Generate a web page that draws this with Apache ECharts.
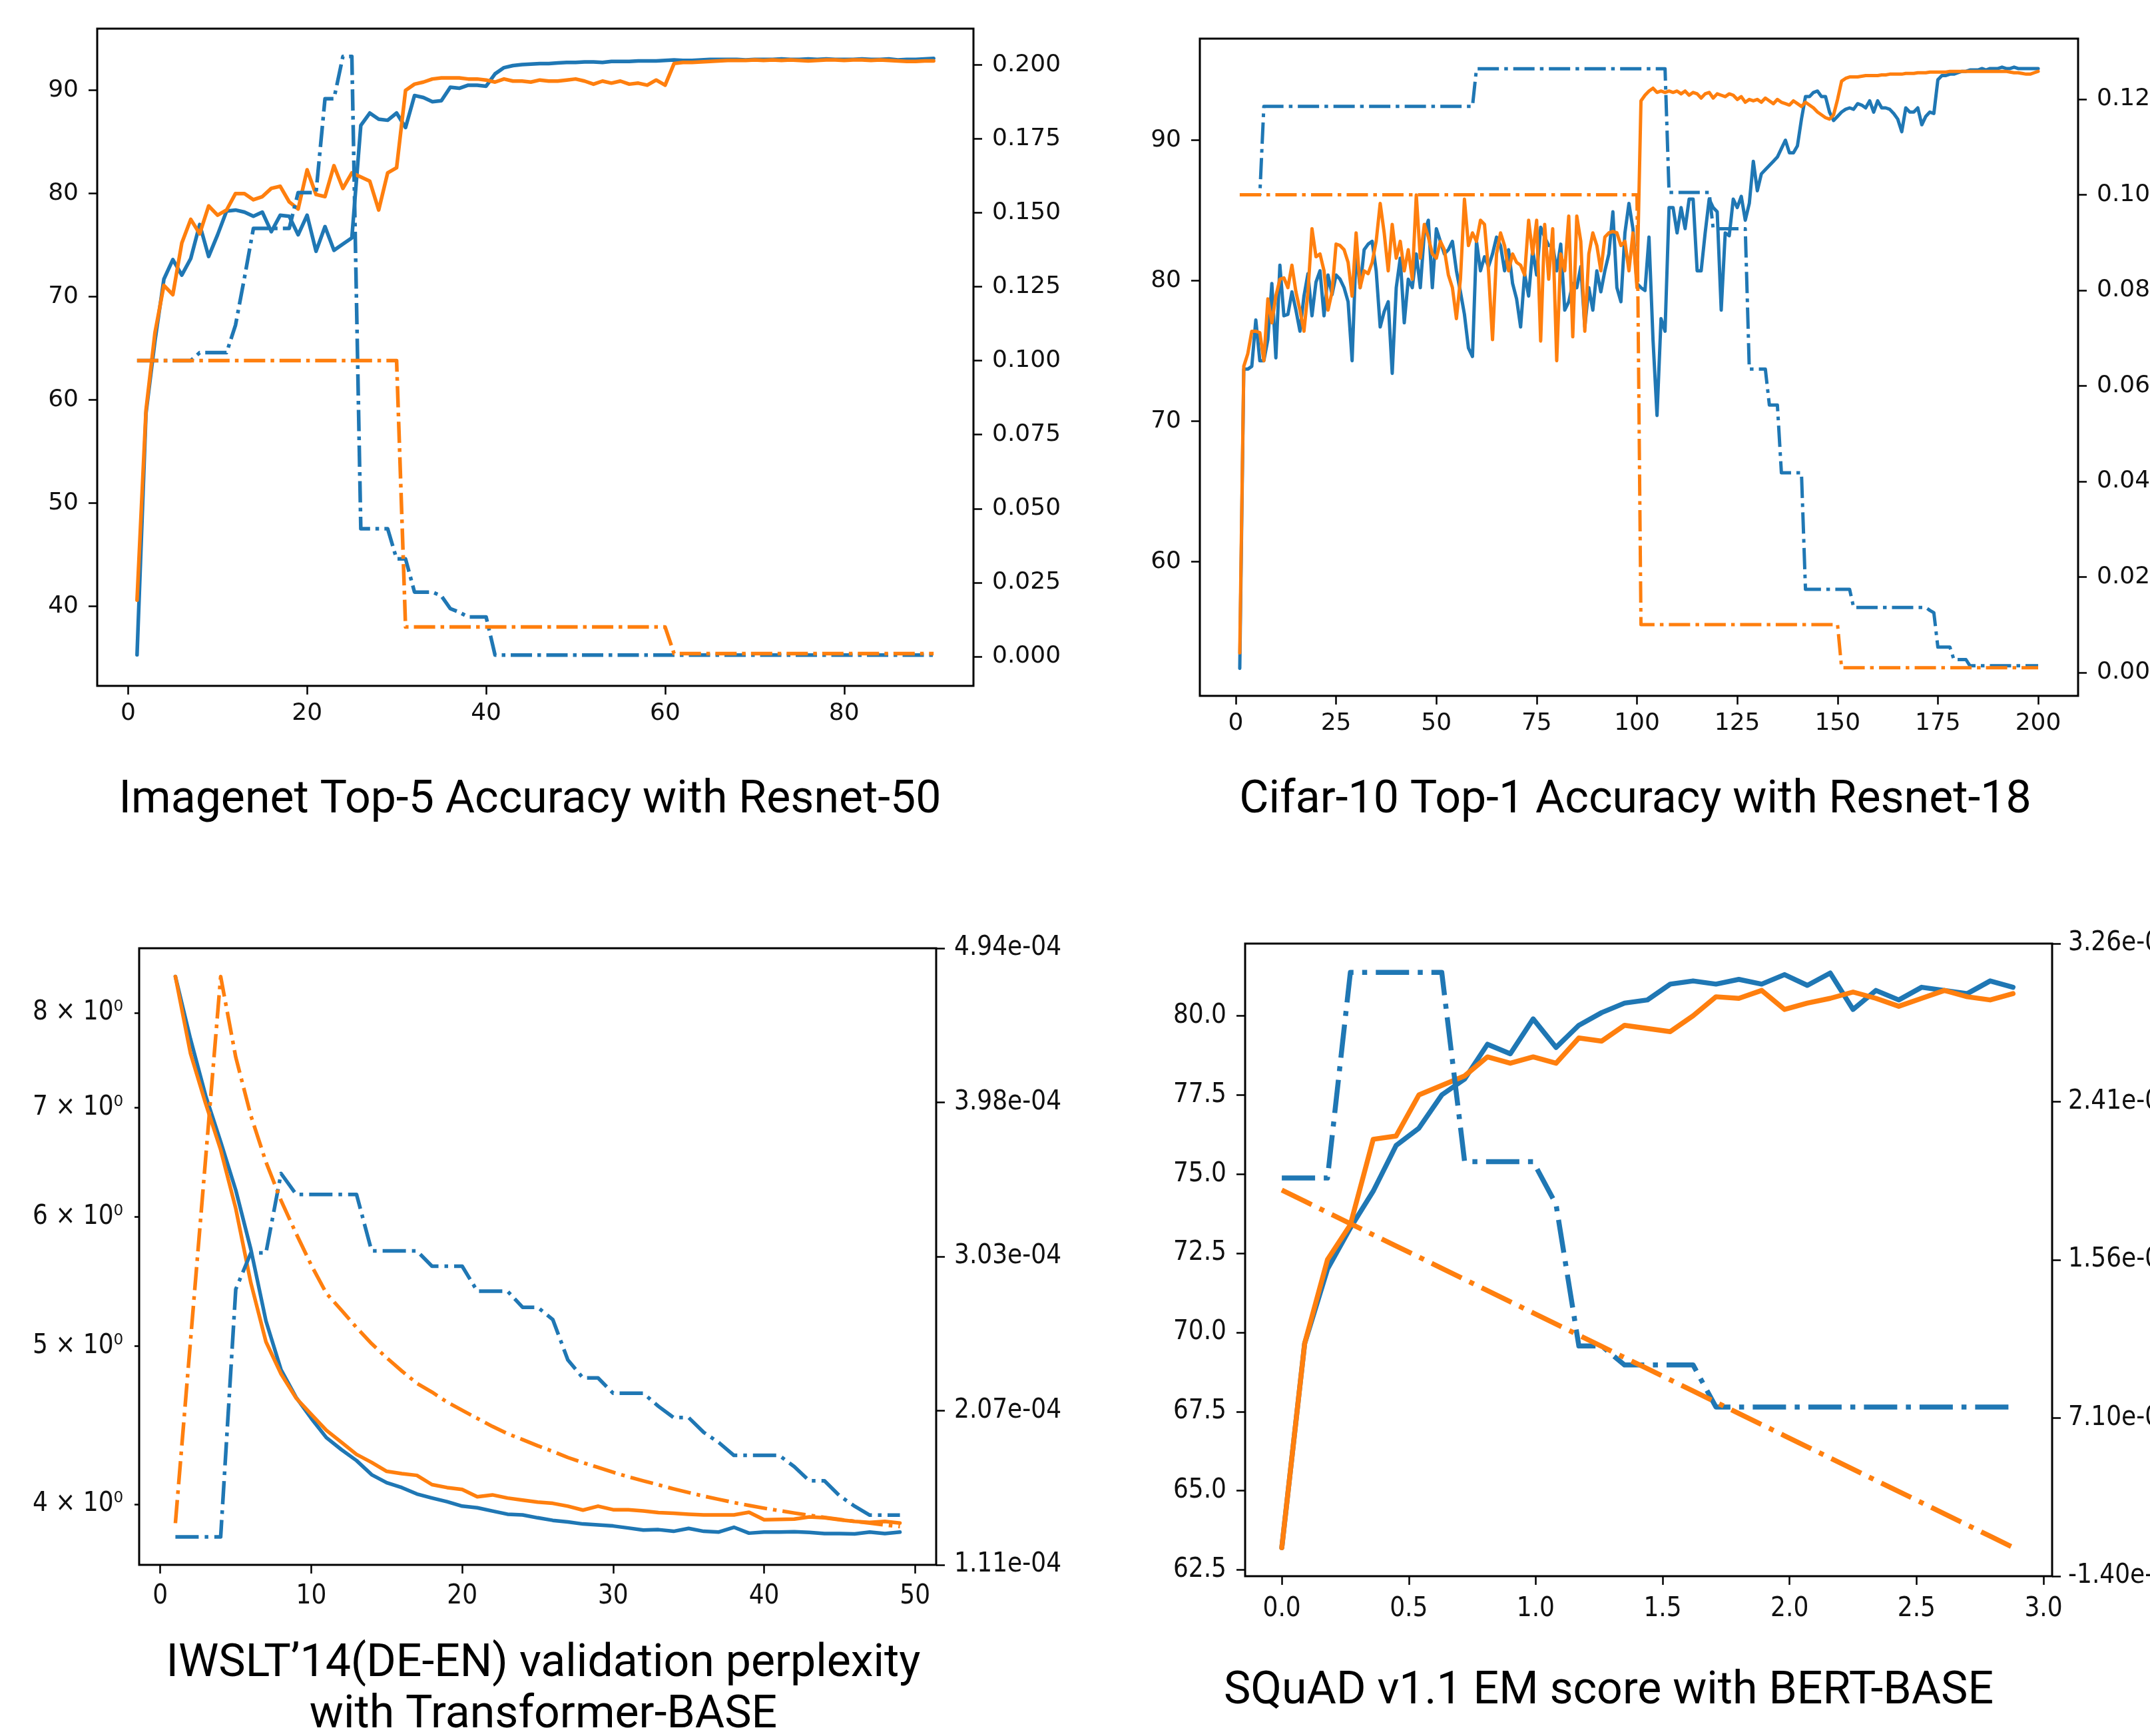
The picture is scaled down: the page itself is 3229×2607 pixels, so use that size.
<!DOCTYPE html>
<html><head><meta charset="utf-8">
<script src="https://cdn.jsdelivr.net/npm/echarts@6/dist/echarts.min.js"></script>
<style>html,body{margin:0;padding:0;background:#fff}#c{width:3229px;height:2607px}</style>
</head><body><div id="c"></div>
<script>
// ---------- Panel 1: Imagenet Top-5 (epochs 1..90) ----------
const p1Blue = [35.3,58.7,65.7,71.7,73.6,72.1,73.7,77.0,73.9,76.0,
78.3,78.4,78.2,77.8,78.2,76.3,77.9,77.8,76.0,77.9,
74.4,76.8,74.5,75.1,75.7,86.6,87.8,87.2,87.1,87.8,
86.4,89.5,89.3,88.9,89.0,90.3,90.2,90.5,90.5,90.4,
91.6,92.2,92.4,92.5,92.55,92.6,92.6,92.65,92.7,92.7,
92.75,92.75,92.7,92.8,92.8,92.8,92.85,92.85,92.85,92.9,
92.95,92.9,92.9,92.95,93.0,93.0,93.0,93.0,92.95,93.0,
93.0,93.0,93.05,93.0,93.0,93.05,93.0,93.05,93.0,93.0,
93.0,93.05,93.0,93.0,93.05,92.95,93.0,93.0,93.05,93.1];
const p1Orange = [40.6,59.0,66.5,71.1,70.2,75.2,77.5,76.1,78.8,77.9,
78.4,80.0,80.0,79.4,79.7,80.5,80.7,79.2,78.5,82.3,
79.9,79.7,82.7,80.5,82.0,81.6,81.2,78.4,82.0,82.5,
90.0,90.6,90.8,91.1,91.2,91.2,91.2,91.1,91.1,91.0,
90.8,91.1,90.9,90.9,90.8,91.0,90.9,90.9,91.0,91.1,
90.9,90.6,90.9,90.7,90.9,90.6,90.7,90.5,91.0,90.5,
92.6,92.7,92.7,92.75,92.8,92.85,92.9,92.9,92.9,92.95,
92.9,92.95,92.9,92.95,92.9,92.85,92.9,92.95,92.95,92.9,
92.95,92.95,92.9,92.95,92.9,92.85,92.8,92.8,92.85,92.85];
const p1BlueLr = [0.1,0.1,0.1,0.1,0.1,0.1,0.1,0.1027,0.1027,0.1027,
0.1027,0.112,0.128,0.1447,0.1447,0.1447,0.1447,0.1447,0.1568,0.1568,
0.1568,0.1885,0.1885,0.2028,0.2028,0.0432,0.0432,0.0432,0.0432,0.033,
0.033,0.0218,0.0218,0.0218,0.0205,0.0162,0.015,0.0134,0.0134,0.0134,
0.0005,0.0005,0.0005,0.0005,0.0005,0.0005,0.0005,0.0005,0.0005,0.0005,
0.0005,0.0005,0.0005,0.0005,0.0005,0.0005,0.0005,0.0005,0.0005,0.0005,
0.0005,0.0005,0.0005,0.0005,0.0005,0.0005,0.0005,0.0005,0.0005,0.0005,
0.0005,0.0005,0.0005,0.0005,0.0005,0.0005,0.0005,0.0005,0.0005,0.0005,
0.0005,0.0005,0.0005,0.0005,0.0005,0.0005,0.0005,0.0005,0.0005,0.0005];
const p1OrangeLr = [0.1,0.1,0.1,0.1,0.1,0.1,0.1,0.1,0.1,0.1,
0.1,0.1,0.1,0.1,0.1,0.1,0.1,0.1,0.1,0.1,
0.1,0.1,0.1,0.1,0.1,0.1,0.1,0.1,0.1,0.1,
0.01,0.01,0.01,0.01,0.01,0.01,0.01,0.01,0.01,0.01,
0.01,0.01,0.01,0.01,0.01,0.01,0.01,0.01,0.01,0.01,
0.01,0.01,0.01,0.01,0.01,0.01,0.01,0.01,0.01,0.01,
0.001,0.001,0.001,0.001,0.001,0.001,0.001,0.001,0.001,0.001,
0.001,0.001,0.001,0.001,0.001,0.001,0.001,0.001,0.001,0.001,
0.001,0.001,0.001,0.001,0.001,0.001,0.001,0.001,0.001,0.001];
const p1XTicks = [0,20,40,60,80];
const p1LeftTicks = [40,50,60,70,80,90];
const p1RightTicks = [0,0.025,0.05,0.075,0.1,0.125,0.15,0.175,0.2];

// ---------- Panel 2: Cifar-10 Top-1 (epochs 1..200) ----------
const p2Blue = [52.4,73.7,73.7,73.9,77.2,74.3,74.3,75.8,79.8,74.5,
81.1,77.5,77.6,79.2,77.9,76.4,78.9,80.5,77.5,79.9,
80.7,77.5,80.4,79.0,80.4,80.1,79.5,78.5,74.3,82.2,
79.5,82.2,82.6,82.8,80.7,76.7,77.8,78.5,73.4,79.5,
81.6,77.0,80.1,79.5,81.9,79.5,83.4,84.3,79.5,83.7,
82.8,81.9,82.2,82.8,80.7,79.2,77.6,75.2,74.6,82.8,
80.7,81.7,81.0,81.9,83.1,82.5,80.7,82.2,79.8,78.7,
76.7,80.5,78.9,82.2,80.4,83.8,83.1,82.5,82.5,80.7,
82.6,77.9,78.5,79.8,79.5,81.0,76.7,79.5,77.9,80.7,
79.2,80.7,81.9,84.9,79.5,78.5,83.4,85.5,83.7,79.8,
79.5,79.3,83.1,75.8,70.4,77.3,76.4,85.2,85.2,83.4,
85.2,83.7,85.8,85.8,80.7,80.7,83.4,85.8,85.2,84.9,
77.9,83.4,83.2,85.8,85.2,86.0,84.3,85.5,88.5,86.4,
87.6,87.9,88.2,88.5,88.8,89.4,90.0,89.1,89.1,89.6,
91.5,93.1,93.1,93.4,93.5,93.1,93.1,92.0,91.4,91.7,
92.0,92.2,92.3,92.2,92.6,92.5,92.3,92.8,92.0,92.8,
92.3,92.3,92.2,91.9,91.5,90.6,92.3,92.0,92.0,92.3,
91.1,91.7,92.0,91.9,94.3,94.6,94.6,94.7,94.7,94.8,
94.9,94.9,95.0,95.0,95.0,95.1,95.0,95.1,95.1,95.1,
95.2,95.1,95.1,95.2,95.1,95.1,95.1,95.1,95.1,95.1];
const p2Orange = [53.5,73.9,74.8,76.4,76.4,76.3,74.3,78.7,77.0,78.9,
80.1,80.2,79.5,81.1,79.2,77.9,76.4,79.2,83.7,81.7,
81.9,80.7,77.9,79.2,82.6,82.5,82.2,81.3,78.9,83.4,
79.5,80.7,80.5,81.3,82.8,85.5,83.4,80.7,84.0,81.6,
82.8,80.7,82.2,80.1,86.1,81.6,84.0,83.1,81.9,81.6,
82.8,82.2,80.4,79.5,77.3,80.1,85.8,82.5,83.4,82.8,
84.3,84.0,80.7,75.8,81.9,83.4,82.5,80.7,81.9,81.3,
81.1,80.4,84.3,81.9,84.3,75.7,84.0,80.1,83.7,74.3,
81.9,80.7,84.6,76.0,84.6,82.8,76.4,81.9,83.4,82.5,
80.7,83.1,83.4,83.5,83.4,82.5,82.8,80.7,83.4,79.5,
92.8,93.2,93.5,93.7,93.4,93.5,93.4,93.5,93.4,93.5,
93.3,93.5,93.2,93.4,93.3,93.0,93.3,93.4,93.0,93.3,
93.2,93.1,93.3,93.2,92.9,93.1,92.7,92.9,92.8,92.9,
92.7,93.0,92.8,92.6,92.9,92.7,92.6,92.5,92.8,92.6,
92.4,92.7,92.5,92.3,92.0,91.8,91.6,91.5,91.8,92.9,
94.2,94.4,94.5,94.5,94.5,94.55,94.6,94.6,94.6,94.6,
94.65,94.65,94.7,94.7,94.7,94.7,94.75,94.75,94.75,94.8,
94.8,94.8,94.85,94.85,94.85,94.85,94.85,94.9,94.9,94.9,
94.9,94.9,94.9,94.9,94.9,94.9,94.9,94.9,94.9,94.9,
94.9,94.9,94.85,94.8,94.8,94.75,94.7,94.7,94.8,94.9];
const p2BlueLr = [0.1,0.1,0.1,0.1,0.1,0.1,0.1185,0.1185,0.1185,0.1185,
0.1185,0.1185,0.1185,0.1185,0.1185,0.1185,0.1185,0.1185,0.1185,0.1185,
0.1185,0.1185,0.1185,0.1185,0.1185,0.1185,0.1185,0.1185,0.1185,0.1185,
0.1185,0.1185,0.1185,0.1185,0.1185,0.1185,0.1185,0.1185,0.1185,0.1185,
0.1185,0.1185,0.1185,0.1185,0.1185,0.1185,0.1185,0.1185,0.1185,0.1185,
0.1185,0.1185,0.1185,0.1185,0.1185,0.1185,0.1185,0.1185,0.1185,0.1264,
0.1264,0.1264,0.1264,0.1264,0.1264,0.1264,0.1264,0.1264,0.1264,0.1264,
0.1264,0.1264,0.1264,0.1264,0.1264,0.1264,0.1264,0.1264,0.1264,0.1264,
0.1264,0.1264,0.1264,0.1264,0.1264,0.1264,0.1264,0.1264,0.1264,0.1264,
0.1264,0.1264,0.1264,0.1264,0.1264,0.1264,0.1264,0.1264,0.1264,0.1264,
0.1264,0.1264,0.1264,0.1264,0.1264,0.1264,0.1264,0.1005,0.1005,0.1005,
0.1005,0.1005,0.1005,0.1005,0.1005,0.1005,0.1005,0.1005,0.0929,0.0929,
0.0929,0.0929,0.0929,0.0929,0.0929,0.0929,0.0929,0.0635,0.0635,0.0635,
0.0635,0.0635,0.056,0.056,0.056,0.0418,0.0418,0.0418,0.0418,0.0418,
0.0418,0.0174,0.0174,0.0174,0.0174,0.0174,0.0174,0.0174,0.0174,0.0174,
0.0174,0.0174,0.0174,0.0136,0.0136,0.0136,0.0136,0.0136,0.0136,0.0136,
0.0136,0.0136,0.0136,0.0136,0.0136,0.0136,0.0136,0.0136,0.0136,0.0136,
0.0136,0.0136,0.013,0.0125,0.0053,0.0053,0.0053,0.0053,0.0027,0.0027,
0.0027,0.0027,0.0014,0.0014,0.0014,0.0014,0.0014,0.0014,0.0014,0.0014,
0.0014,0.0014,0.0014,0.0014,0.0014,0.0014,0.0014,0.0014,0.0014,0.0014];
const p2OrangeLr = [0.1,0.1,0.1,0.1,0.1,0.1,0.1,0.1,0.1,0.1,
0.1,0.1,0.1,0.1,0.1,0.1,0.1,0.1,0.1,0.1,
0.1,0.1,0.1,0.1,0.1,0.1,0.1,0.1,0.1,0.1,
0.1,0.1,0.1,0.1,0.1,0.1,0.1,0.1,0.1,0.1,
0.1,0.1,0.1,0.1,0.1,0.1,0.1,0.1,0.1,0.1,
0.1,0.1,0.1,0.1,0.1,0.1,0.1,0.1,0.1,0.1,
0.1,0.1,0.1,0.1,0.1,0.1,0.1,0.1,0.1,0.1,
0.1,0.1,0.1,0.1,0.1,0.1,0.1,0.1,0.1,0.1,
0.1,0.1,0.1,0.1,0.1,0.1,0.1,0.1,0.1,0.1,
0.1,0.1,0.1,0.1,0.1,0.1,0.1,0.1,0.1,0.1,
0.01,0.01,0.01,0.01,0.01,0.01,0.01,0.01,0.01,0.01,
0.01,0.01,0.01,0.01,0.01,0.01,0.01,0.01,0.01,0.01,
0.01,0.01,0.01,0.01,0.01,0.01,0.01,0.01,0.01,0.01,
0.01,0.01,0.01,0.01,0.01,0.01,0.01,0.01,0.01,0.01,
0.01,0.01,0.01,0.01,0.01,0.01,0.01,0.01,0.01,0.01,
0.001,0.001,0.001,0.001,0.001,0.001,0.001,0.001,0.001,0.001,
0.001,0.001,0.001,0.001,0.001,0.001,0.001,0.001,0.001,0.001,
0.001,0.001,0.001,0.001,0.001,0.001,0.001,0.001,0.001,0.001,
0.001,0.001,0.001,0.001,0.001,0.001,0.001,0.001,0.001,0.001,
0.001,0.001,0.001,0.001,0.001,0.001,0.001,0.001,0.001,0.001];
const p2XTicks = [0,25,50,75,100,125,150,175,200];
const p2LeftTicks = [60,70,80,90];
const p2RightTicks = [0,0.02,0.04,0.06,0.08,0.1,0.12];

// ---------- Panel 3: IWSLT'14 perplexity (epochs 1..49) ----------
const p3Blue = [8.42,7.71,7.12,6.67,6.23,5.73,5.18,4.835,4.65,4.515,
4.394,4.32,4.254,4.17,4.123,4.095,4.058,4.035,4.014,3.989,
3.980,3.962,3.944,3.940,3.924,3.910,3.901,3.890,3.885,3.879,
3.868,3.857,3.859,3.850,3.866,3.850,3.846,3.872,3.840,3.846,
3.846,3.848,3.844,3.838,3.838,3.836,3.846,3.838,3.846];
const p3Orange = [8.42,7.555,7.04,6.594,6.07,5.465,5.03,4.807,4.646,4.541,
4.44,4.365,4.291,4.243,4.19,4.176,4.166,4.112,4.095,4.084,
4.042,4.053,4.035,4.023,4.012,4.005,3.989,3.967,3.989,3.969,
3.969,3.962,3.953,3.949,3.944,3.94,3.94,3.94,3.955,3.913,
3.915,3.917,3.929,3.924,3.913,3.904,3.899,3.904,3.895];
const p3BlueLr = [1.284e-4,1.284e-4,1.284e-4,1.284e-4,2.822e-4,3.048e-4,3.048e-4,3.541e-4,3.411e-4,3.411e-4,
3.411e-4,3.411e-4,3.411e-4,3.060e-4,3.060e-4,3.060e-4,3.060e-4,2.965e-4,2.965e-4,2.965e-4,
2.810e-4,2.810e-4,2.810e-4,2.710e-4,2.710e-4,2.634e-4,2.383e-4,2.271e-4,2.271e-4,2.176e-4,
2.176e-4,2.176e-4,2.095e-4,2.025e-4,2.025e-4,1.933e-4,1.870e-4,1.790e-4,1.790e-4,1.790e-4,
1.790e-4,1.720e-4,1.632e-4,1.632e-4,1.539e-4,1.474e-4,1.419e-4,1.419e-4,1.419e-4];
const p3OrangeLr = [1.369e-4,2.50e-4,3.63e-4,4.764e-4,4.263e-4,3.900e-4,3.612e-4,3.373e-4,3.168e-4,2.972e-4,
2.797e-4,2.692e-4,2.584e-4,2.484e-4,2.396e-4,2.314e-4,2.238e-4,2.183e-4,2.121e-4,2.070e-4,
2.020e-4,1.970e-4,1.925e-4,1.888e-4,1.850e-4,1.815e-4,1.777e-4,1.745e-4,1.715e-4,1.685e-4,
1.657e-4,1.632e-4,1.607e-4,1.582e-4,1.559e-4,1.537e-4,1.517e-4,1.497e-4,1.479e-4,1.462e-4,
1.447e-4,1.432e-4,1.418e-4,1.405e-4,1.392e-4,1.380e-4,1.369e-4,1.358e-4,1.348e-4];
const p3XTicks = [0,10,20,30,40,50];
const p3LeftTicks = [4,5,6,7,8];
const p3LeftLabels = ['4 \u00d7 10\u2070','5 \u00d7 10\u2070','6 \u00d7 10\u2070','7 \u00d7 10\u2070','8 \u00d7 10\u2070'];
const p3RightTicks = [1.11e-4,2.0675e-4,3.025e-4,3.9825e-4,4.94e-4];
const p3RightLabels = ['1.11e-04','2.07e-04','3.03e-04','3.98e-04','4.94e-04'];

// ---------- Panel 4: SQuAD v1.1 EM (33 evaluations) ----------
const p4X = [0,0.09,0.18,0.27,0.36,0.45,0.54,0.63,0.72,0.81,
0.90,0.99,1.08,1.17,1.26,1.35,1.44,1.53,1.62,1.71,
1.80,1.89,1.98,2.07,2.16,2.25,2.34,2.43,2.52,2.61,
2.70,2.79,2.88];
const p4Blue = [63.2,69.65,72.0,73.3,74.46,75.9,76.45,77.5,78.0,79.1,
78.8,79.9,79.0,79.7,80.1,80.4,80.5,81.0,81.1,81.0,
81.15,81.0,81.3,80.96,81.35,80.2,80.8,80.5,80.9,80.8,
80.7,81.1,80.9];
const p4Orange = [63.2,69.65,72.3,73.4,76.1,76.2,77.5,77.8,78.1,78.7,
78.5,78.7,78.5,79.3,79.2,79.7,79.6,79.5,80.0,80.6,
80.55,80.8,80.2,80.4,80.55,80.75,80.55,80.3,80.55,80.8,
80.6,80.5,80.7];
const p4BlueLr = [2.0e-5,2.0e-5,2.0e-5,3.105e-5,3.105e-5,3.105e-5,3.105e-5,3.105e-5,2.088e-5,2.088e-5,
2.088e-5,2.088e-5,1.859e-5,1.097e-5,1.097e-5,0.995e-5,0.995e-5,0.995e-5,0.995e-5,0.769e-5,
0.769e-5,0.769e-5,0.769e-5,0.769e-5,0.769e-5,0.769e-5,0.769e-5,0.769e-5,0.769e-5,0.769e-5,
0.769e-5,0.769e-5,0.769e-5];
const p4OrangeLr = [1.935e-5,1.875e-5,1.815e-5,1.755e-5,1.695e-5,1.635e-5,1.575e-5,1.515e-5,1.455e-5,1.395e-5,
1.335e-5,1.275e-5,1.215e-5,1.155e-5,1.095e-5,1.035e-5,0.975e-5,0.915e-5,0.855e-5,0.795e-5,
0.735e-5,0.675e-5,0.615e-5,0.555e-5,0.495e-5,0.435e-5,0.375e-5,0.315e-5,0.255e-5,0.195e-5,
0.135e-5,0.075e-5,0.015e-5];
const p4XTicks = [0,0.5,1.0,1.5,2.0,2.5,3.0];
const p4LeftTicks = [62.5,65,67.5,70,72.5,75,77.5,80];
const p4RightTicks = [-1.4e-6,7.1e-6,1.56e-5,2.41e-5,3.26e-5];
const p4RightLabels = ['-1.40e-06','7.10e-06','1.56e-05','2.41e-05','3.26e-05'];

const titles = [
  'Imagenet Top-5 Accuracy with Resnet-50',
  'Cifar-10 Top-1 Accuracy with Resnet-18',
  'IWSLT\u201914(DE-EN) validation perplexity\nwith Transformer-BASE',
  'SQuAD v1.1 EM score with BERT-BASE'
];

// ---------- styling / layout ----------
const BLUE = '#1f77b4', ORANGE = '#ff7f0e';
const FONT_A = "'DejaVu Sans', sans-serif";
const FONT_B = "'DejaVu Sans Condensed', 'DejaVu Sans', sans-serif";

function byIndex(ys) { return ys.map((v, i) => [i + 1, v]); }
function byX(xs, ys) { return ys.map((v, i) => [xs[i], v]); }
function lookup(ticks, labels) {
  return function (v) {
    let best = 0, bd = Infinity;
    for (let i = 0; i < ticks.length; i++) { const d = Math.abs(ticks[i] - v); if (d < bd) { bd = d; best = i; } }
    return labels[best];
  };
}

function axis(o) {
  return {
    type: o.type || 'value', gridIndex: o.grid, position: o.position,
    min: o.min, max: o.max, logBase: o.logBase,
    axisLine: { show: false, onZero: false },
    splitLine: { show: false },
    splitArea: { show: false },
    minorTick: { show: false },
    axisTick: { show: true, inside: false, length: o.tickLen, lineStyle: { color: '#000', width: 2.5 }, customValues: o.ticks },
    axisLabel: { show: true, customValues: o.ticks, formatter: o.fmt, margin: o.margin,
      fontSize: o.fontSize, fontFamily: o.font, color: '#111', hideOverlap: false }
  };
}

const grids = [
  { left: 146, top: 43, width: 1316, height: 987 },
  { left: 1802, top: 58, width: 1319, height: 987 },
  { left: 209, top: 1424, width: 1197, height: 926 },
  { left: 1870, top: 1417, width: 1212, height: 950 }
].map(g => Object.assign(g, { show: true, borderColor: '#000', borderWidth: 3, backgroundColor: 'transparent', containLabel: false, outerBoundsMode: 'none' }));

const xAxes = [
  axis({ grid: 0, position: 'bottom', min: -3.45, max: 94.45, ticks: p1XTicks, fmt: v => String(v), margin: 24, fontSize: 36, font: FONT_A, tickLen: 13 }),
  axis({ grid: 1, position: 'bottom', min: -8.95, max: 209.95, ticks: p2XTicks, fmt: v => String(v), margin: 24, fontSize: 36, font: FONT_A, tickLen: 13 }),
  axis({ grid: 2, position: 'bottom', min: -1.4, max: 51.4, ticks: p3XTicks, fmt: v => String(v), margin: 28, fontSize: 40, font: FONT_B, tickLen: 13 }),
  axis({ grid: 3, position: 'bottom', min: -0.1445, max: 3.034, ticks: p4XTicks, fmt: v => v.toFixed(1), margin: 30, fontSize: 40, font: FONT_B, tickLen: 13 })
];
const yAxes = [
  axis({ grid: 0, position: 'left', min: 32.29, max: 95.98, ticks: p1LeftTicks, fmt: v => String(v), margin: 28, fontSize: 36, font: FONT_A, tickLen: 13 }),
  axis({ grid: 0, position: 'right', min: -0.0099, max: 0.2122, ticks: p1RightTicks, fmt: v => v.toFixed(3), margin: 28, fontSize: 36, font: FONT_A, tickLen: 13 }),
  axis({ grid: 1, position: 'left', min: 50.44, max: 97.23, ticks: p2LeftTicks, fmt: v => String(v), margin: 28, fontSize: 36, font: FONT_A, tickLen: 13 }),
  axis({ grid: 1, position: 'right', min: -0.0049, max: 0.1327, ticks: p2RightTicks, fmt: v => v.toFixed(2), margin: 28, fontSize: 36, font: FONT_A, tickLen: 13 }),
  axis({ grid: 2, type: 'log', logBase: 10, position: 'left', min: 3.672, max: 8.763, ticks: p3LeftTicks, fmt: lookup(p3LeftTicks, p3LeftLabels), margin: 24, fontSize: 40, font: FONT_B, tickLen: 7 }),
  axis({ grid: 2, position: 'right', min: 1.11e-4, max: 4.94e-4, ticks: p3RightTicks, fmt: lookup(p3RightTicks, p3RightLabels), margin: 27, fontSize: 40, font: FONT_B, tickLen: 13 }),
  axis({ grid: 3, position: 'left', min: 62.3, max: 82.28, ticks: p4LeftTicks, fmt: v => v.toFixed(1), margin: 28, fontSize: 40, font: FONT_B, tickLen: 13 }),
  axis({ grid: 3, position: 'right', min: -1.4e-6, max: 3.26e-5, ticks: p4RightTicks, fmt: lookup(p4RightTicks, p4RightLabels), margin: 24, fontSize: 40, font: FONT_B, tickLen: 13 })
];

function line(data, xi, yi, color, width, dash) {
  return {
    type: 'line', xAxisIndex: xi, yAxisIndex: yi, data: data, showSymbol: false, symbol: 'none',
    smooth: false, animation: false, silent: true, clip: true,
    lineStyle: { color: color, width: width, type: dash || 'solid', cap: dash ? 'butt' : 'round', join: 'round' }
  };
}

const d1 = [32, 8, 5.5, 8], d3 = [35, 9, 5.5, 9], d4 = [50, 13, 7.5, 13];
const series = [
  line(byIndex(p1Blue), 0, 0, BLUE, 5.5),
  line(byIndex(p1Orange), 0, 0, ORANGE, 5.5),
  line(byIndex(p1BlueLr), 0, 1, BLUE, 5.5, d1),
  line(byIndex(p1OrangeLr), 0, 1, ORANGE, 5.5, d1),
  line(byIndex(p2Blue), 1, 2, BLUE, 5),
  line(byIndex(p2Orange), 1, 2, ORANGE, 5),
  line(byIndex(p2BlueLr), 1, 3, BLUE, 5, d1),
  line(byIndex(p2OrangeLr), 1, 3, ORANGE, 5, d1),
  line(byIndex(p3Blue), 2, 4, BLUE, 5.5),
  line(byIndex(p3Orange), 2, 4, ORANGE, 5.5),
  line(byIndex(p3BlueLr), 2, 5, BLUE, 5.5, d3),
  line(byIndex(p3OrangeLr), 2, 5, ORANGE, 5.5, d3),
  line(byX(p4X, p4Blue), 3, 6, BLUE, 7.5),
  line(byX(p4X, p4Orange), 3, 6, ORANGE, 7.5),
  line(byX(p4X, p4BlueLr), 3, 7, BLUE, 7.5, d4),
  line(byX(p4X, p4OrangeLr), 3, 7, ORANGE, 7.5, d4)
];

function titleText(text, x, y) {
  return { type: 'text', x: x, y: y, silent: true,
    style: { text: text, fontSize: 68, fontFamily: 'Roboto', fill: '#000', align: 'center', verticalAlign: 'middle', lineHeight: 77 } };
}

const chart = echarts.init(document.getElementById('c'), null, { renderer: 'canvas', width: 3229, height: 2607 });
chart.setOption({
  backgroundColor: '#fff',
  animation: false,
  grid: grids,
  xAxis: xAxes,
  yAxis: yAxes,
  series: series,
  graphic: [
    titleText(titles[0], 796, 1203),
    titleText(titles[1], 2456, 1203),
    titleText(titles[2], 816, 2538),
    titleText(titles[3], 2416, 2541)
  ]
});
</script></body></html>
